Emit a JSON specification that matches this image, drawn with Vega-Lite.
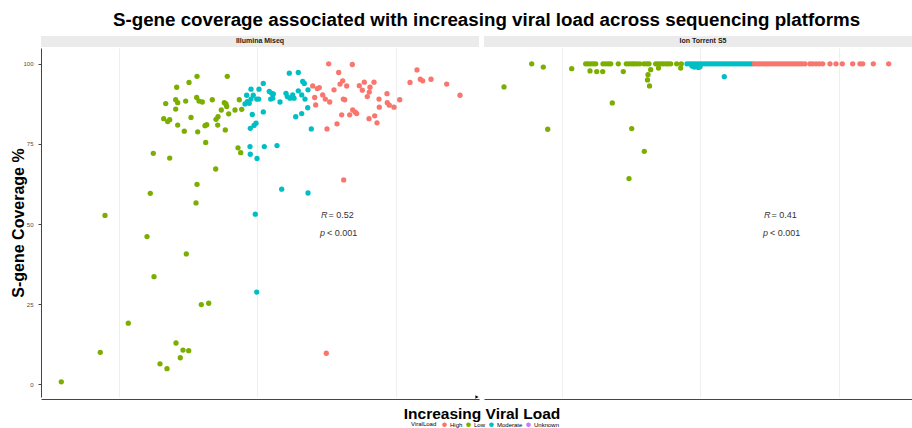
{
  "$schema": "https://vega.github.io/schema/vega-lite/v6.json",
  "padding": {"left": 10, "top": 11, "right": 0, "bottom": 0},
  "title": {"text": "S-gene coverage associated with increasing viral load across sequencing platforms", "fontSize": 18.75, "font": "Liberation Sans", "fontWeight": "bold", "color": "#000000", "anchor": "middle", "offset": 6, "dx": 20},
  "data": {"values": [
    {"kind": "lab", "P": "Illumina Miseq", "r": "= 0.52", "p": "< 0.001"},
    {"kind": "lab", "P": "Ion Torrent S5", "r": "= 0.41", "p": "< 0.001"},
    {"kind":"pt","P":"Illumina Miseq","L":"Low","x":64,"y":52.7},
    {"kind":"pt","P":"Illumina Miseq","L":"Low","x":112.3,"y":72.1},
    {"kind":"pt","P":"Illumina Miseq","L":"Low","x":109.3,"y":59.6},
    {"kind":"pt","P":"Illumina Miseq","L":"Low","x":128.7,"y":70.6},
    {"kind":"pt","P":"Illumina Miseq","L":"Low","x":124.7,"y":87.6},
    {"kind":"pt","P":"Illumina Miseq","L":"Low","x":122.7,"y":82.9},
    {"kind":"pt","P":"Illumina Miseq","L":"Low","x":126.7,"y":82.0},
    {"kind":"pt","P":"Illumina Miseq","L":"Low","x":128.7,"y":82.6},
    {"kind":"pt","P":"Illumina Miseq","L":"Low","x":134.7,"y":88.8},
    {"kind":"pt","P":"Illumina Miseq","L":"Low","x":136.7,"y":87.9},
    {"kind":"pt","P":"Illumina Miseq","L":"Low","x":135.7,"y":92.7},
    {"kind":"pt","P":"Illumina Miseq","L":"Low","x":134.7,"y":85.9},
    {"kind":"pt","P":"Illumina Miseq","L":"Low","x":136.7,"y":80.9},
    {"kind":"pt","P":"Illumina Miseq","L":"Low","x":144.7,"y":88.4},
    {"kind":"pt","P":"Illumina Miseq","L":"Low","x":143.3,"y":79.0},
    {"kind":"pt","P":"Illumina Miseq","L":"Low","x":148,"y":94.2},
    {"kind":"pt","P":"Illumina Miseq","L":"Low","x":150,"y":83.3},
    {"kind":"pt","P":"Illumina Miseq","L":"Low","x":156,"y":96.1},
    {"kind":"pt","P":"Illumina Miseq","L":"Low","x":155.7,"y":89.5},
    {"kind":"pt","P":"Illumina Miseq","L":"Low","x":158,"y":88.4},
    {"kind":"pt","P":"Illumina Miseq","L":"Low","x":161.3,"y":88.1},
    {"kind":"pt","P":"Illumina Miseq","L":"Low","x":156.7,"y":78.8},
    {"kind":"pt","P":"Illumina Miseq","L":"Low","x":164.7,"y":75.5},
    {"kind":"pt","P":"Illumina Miseq","L":"Low","x":164,"y":80.7},
    {"kind":"pt","P":"Illumina Miseq","L":"Low","x":165.7,"y":81.0},
    {"kind":"pt","P":"Illumina Miseq","L":"Low","x":171.3,"y":88.8},
    {"kind":"pt","P":"Illumina Miseq","L":"Low","x":175,"y":82.7},
    {"kind":"pt","P":"Illumina Miseq","L":"Low","x":177,"y":83.5},
    {"kind":"pt","P":"Illumina Miseq","L":"Low","x":176.7,"y":80.9},
    {"kind":"pt","P":"Illumina Miseq","L":"Low","x":180.3,"y":85.6},
    {"kind":"pt","P":"Illumina Miseq","L":"Low","x":184.3,"y":79.4},
    {"kind":"pt","P":"Illumina Miseq","L":"Low","x":183.3,"y":87.9},
    {"kind":"pt","P":"Illumina Miseq","L":"Low","x":185,"y":87.5},
    {"kind":"pt","P":"Illumina Miseq","L":"Low","x":185.7,"y":86.7},
    {"kind":"pt","P":"Illumina Miseq","L":"Low","x":187.7,"y":84.4},
    {"kind":"pt","P":"Illumina Miseq","L":"Low","x":186.3,"y":96.1},
    {"kind":"pt","P":"Illumina Miseq","L":"Low","x":194,"y":85.6},
    {"kind":"pt","P":"Illumina Miseq","L":"Low","x":198.3,"y":88.8},
    {"kind":"pt","P":"Illumina Miseq","L":"Low","x":200.7,"y":85.8},
    {"kind":"pt","P":"Illumina Miseq","L":"Low","x":197,"y":73.8},
    {"kind":"pt","P":"Illumina Miseq","L":"Low","x":199.7,"y":72.3},
    {"kind":"pt","P":"Illumina Miseq","L":"Low","x":174.7,"y":67.2},
    {"kind":"pt","P":"Illumina Miseq","L":"Low","x":156,"y":62.4},
    {"kind":"pt","P":"Illumina Miseq","L":"Low","x":155,"y":56.6},
    {"kind":"pt","P":"Illumina Miseq","L":"Low","x":106,"y":46.1},
    {"kind":"pt","P":"Illumina Miseq","L":"Low","x":145.3,"y":40.7},
    {"kind":"pt","P":"Illumina Miseq","L":"Low","x":113,"y":33.6},
    {"kind":"pt","P":"Illumina Miseq","L":"Low","x":160.3,"y":24.9},
    {"kind":"pt","P":"Illumina Miseq","L":"Low","x":167.7,"y":25.3},
    {"kind":"pt","P":"Illumina Miseq","L":"Low","x":87.3,"y":19.1},
    {"kind":"pt","P":"Illumina Miseq","L":"Low","x":59.3,"y":10.0},
    {"kind":"pt","P":"Illumina Miseq","L":"Low","x":135,"y":12.9},
    {"kind":"pt","P":"Illumina Miseq","L":"Low","x":142,"y":10.7},
    {"kind":"pt","P":"Illumina Miseq","L":"Low","x":147.7,"y":10.5},
    {"kind":"pt","P":"Illumina Miseq","L":"Low","x":139.3,"y":8.3},
    {"kind":"pt","P":"Illumina Miseq","L":"Low","x":119,"y":6.4},
    {"kind":"pt","P":"Illumina Miseq","L":"Low","x":126,"y":4.9},
    {"kind":"pt","P":"Illumina Miseq","L":"Low","x":20.3,"y":0.8},
    {"kind":"pt","P":"Illumina Miseq","L":"Moderate","x":204,"y":87.5},
    {"kind":"pt","P":"Illumina Miseq","L":"Moderate","x":206.3,"y":88.2},
    {"kind":"pt","P":"Illumina Miseq","L":"Moderate","x":208.3,"y":87.7},
    {"kind":"pt","P":"Illumina Miseq","L":"Moderate","x":205.7,"y":90.2},
    {"kind":"pt","P":"Illumina Miseq","L":"Moderate","x":210,"y":92.1},
    {"kind":"pt","P":"Illumina Miseq","L":"Moderate","x":210,"y":89.0},
    {"kind":"pt","P":"Illumina Miseq","L":"Moderate","x":212.3,"y":90.2},
    {"kind":"pt","P":"Illumina Miseq","L":"Moderate","x":215.7,"y":89.0},
    {"kind":"pt","P":"Illumina Miseq","L":"Moderate","x":217.7,"y":89.0},
    {"kind":"pt","P":"Illumina Miseq","L":"Moderate","x":218,"y":92.1},
    {"kind":"pt","P":"Illumina Miseq","L":"Moderate","x":222.3,"y":93.9},
    {"kind":"pt","P":"Illumina Miseq","L":"Moderate","x":228.3,"y":91.4},
    {"kind":"pt","P":"Illumina Miseq","L":"Moderate","x":230.7,"y":90.8},
    {"kind":"pt","P":"Illumina Miseq","L":"Moderate","x":232.3,"y":90.6},
    {"kind":"pt","P":"Illumina Miseq","L":"Moderate","x":231.7,"y":89.3},
    {"kind":"pt","P":"Illumina Miseq","L":"Moderate","x":229.7,"y":89.0},
    {"kind":"pt","P":"Illumina Miseq","L":"Moderate","x":239,"y":88.1},
    {"kind":"pt","P":"Illumina Miseq","L":"Moderate","x":211.3,"y":84.2},
    {"kind":"pt","P":"Illumina Miseq","L":"Moderate","x":215,"y":81.5},
    {"kind":"pt","P":"Illumina Miseq","L":"Moderate","x":213,"y":80.8},
    {"kind":"pt","P":"Illumina Miseq","L":"Moderate","x":209.3,"y":79.9},
    {"kind":"pt","P":"Illumina Miseq","L":"Moderate","x":222.3,"y":85.0},
    {"kind":"pt","P":"Illumina Miseq","L":"Moderate","x":209,"y":74.2},
    {"kind":"pt","P":"Illumina Miseq","L":"Moderate","x":209.3,"y":71.8},
    {"kind":"pt","P":"Illumina Miseq","L":"Moderate","x":216,"y":70.5},
    {"kind":"pt","P":"Illumina Miseq","L":"Moderate","x":223.3,"y":74.2},
    {"kind":"pt","P":"Illumina Miseq","L":"Moderate","x":236,"y":74.5},
    {"kind":"pt","P":"Illumina Miseq","L":"Moderate","x":240.7,"y":60.9},
    {"kind":"pt","P":"Illumina Miseq","L":"Moderate","x":248.3,"y":97.1},
    {"kind":"pt","P":"Illumina Miseq","L":"Moderate","x":257.3,"y":97.3},
    {"kind":"pt","P":"Illumina Miseq","L":"Moderate","x":257.3,"y":91.6},
    {"kind":"pt","P":"Illumina Miseq","L":"Moderate","x":245,"y":90.8},
    {"kind":"pt","P":"Illumina Miseq","L":"Moderate","x":246.3,"y":89.8},
    {"kind":"pt","P":"Illumina Miseq","L":"Moderate","x":249,"y":89.3},
    {"kind":"pt","P":"Illumina Miseq","L":"Moderate","x":251.7,"y":90.3},
    {"kind":"pt","P":"Illumina Miseq","L":"Moderate","x":253,"y":89.3},
    {"kind":"pt","P":"Illumina Miseq","L":"Moderate","x":254.7,"y":83.5},
    {"kind":"pt","P":"Illumina Miseq","L":"Moderate","x":260.7,"y":84.5},
    {"kind":"pt","P":"Illumina Miseq","L":"Moderate","x":260.7,"y":90.3},
    {"kind":"pt","P":"Illumina Miseq","L":"Moderate","x":261.7,"y":94.5},
    {"kind":"pt","P":"Illumina Miseq","L":"Moderate","x":263.3,"y":93.9},
    {"kind":"pt","P":"Illumina Miseq","L":"Moderate","x":264,"y":89.0},
    {"kind":"pt","P":"Illumina Miseq","L":"Moderate","x":266.7,"y":86.3},
    {"kind":"pt","P":"Illumina Miseq","L":"Moderate","x":267,"y":91.9},
    {"kind":"pt","P":"Illumina Miseq","L":"Moderate","x":270.3,"y":79.7},
    {"kind":"pt","P":"Illumina Miseq","L":"Moderate","x":267,"y":59.7},
    {"kind":"pt","P":"Illumina Miseq","L":"Moderate","x":214.3,"y":53.1},
    {"kind":"pt","P":"Illumina Miseq","L":"Moderate","x":215.7,"y":28.8},
    {"kind":"pt","P":"Illumina Miseq","L":"High","x":271.7,"y":93.1},
    {"kind":"pt","P":"Illumina Miseq","L":"High","x":273.7,"y":89.5},
    {"kind":"pt","P":"Illumina Miseq","L":"High","x":274.7,"y":87.2},
    {"kind":"pt","P":"Illumina Miseq","L":"High","x":276.3,"y":92.3},
    {"kind":"pt","P":"Illumina Miseq","L":"High","x":278.3,"y":92.6},
    {"kind":"pt","P":"Illumina Miseq","L":"High","x":281.7,"y":90.3},
    {"kind":"pt","P":"Illumina Miseq","L":"High","x":284.3,"y":89.0},
    {"kind":"pt","P":"Illumina Miseq","L":"High","x":287.7,"y":100.0},
    {"kind":"pt","P":"Illumina Miseq","L":"High","x":288.7,"y":88.1},
    {"kind":"pt","P":"Illumina Miseq","L":"High","x":286,"y":79.7},
    {"kind":"pt","P":"Illumina Miseq","L":"High","x":293,"y":91.9},
    {"kind":"pt","P":"Illumina Miseq","L":"High","x":296,"y":81.3},
    {"kind":"pt","P":"Illumina Miseq","L":"High","x":297.7,"y":97.3},
    {"kind":"pt","P":"Illumina Miseq","L":"High","x":299,"y":93.7},
    {"kind":"pt","P":"Illumina Miseq","L":"High","x":301.7,"y":94.7},
    {"kind":"pt","P":"Illumina Miseq","L":"High","x":300.7,"y":84.1},
    {"kind":"pt","P":"Illumina Miseq","L":"High","x":302.3,"y":89.0},
    {"kind":"pt","P":"Illumina Miseq","L":"High","x":303.7,"y":88.8},
    {"kind":"pt","P":"Illumina Miseq","L":"High","x":305.7,"y":93.1},
    {"kind":"pt","P":"Illumina Miseq","L":"High","x":302.7,"y":63.8},
    {"kind":"pt","P":"Illumina Miseq","L":"High","x":308.7,"y":84.1},
    {"kind":"pt","P":"Illumina Miseq","L":"High","x":311.3,"y":99.8},
    {"kind":"pt","P":"Illumina Miseq","L":"High","x":311.7,"y":85.6},
    {"kind":"pt","P":"Illumina Miseq","L":"High","x":314.3,"y":84.9},
    {"kind":"pt","P":"Illumina Miseq","L":"High","x":315.7,"y":84.5},
    {"kind":"pt","P":"Illumina Miseq","L":"High","x":318.3,"y":93.2},
    {"kind":"pt","P":"Illumina Miseq","L":"High","x":321.3,"y":91.8},
    {"kind":"pt","P":"Illumina Miseq","L":"High","x":323.3,"y":94.3},
    {"kind":"pt","P":"Illumina Miseq","L":"High","x":326.3,"y":89.8},
    {"kind":"pt","P":"Illumina Miseq","L":"High","x":328.3,"y":91.2},
    {"kind":"pt","P":"Illumina Miseq","L":"High","x":329,"y":92.7},
    {"kind":"pt","P":"Illumina Miseq","L":"High","x":328,"y":82.9},
    {"kind":"pt","P":"Illumina Miseq","L":"High","x":333,"y":94.3},
    {"kind":"pt","P":"Illumina Miseq","L":"High","x":333.7,"y":83.8},
    {"kind":"pt","P":"Illumina Miseq","L":"High","x":336,"y":81.6},
    {"kind":"pt","P":"Illumina Miseq","L":"High","x":338,"y":89.0},
    {"kind":"pt","P":"Illumina Miseq","L":"High","x":338.3,"y":86.5},
    {"kind":"pt","P":"Illumina Miseq","L":"High","x":346,"y":90.7},
    {"kind":"pt","P":"Illumina Miseq","L":"High","x":346.3,"y":87.9},
    {"kind":"pt","P":"Illumina Miseq","L":"High","x":348.3,"y":87.1},
    {"kind":"pt","P":"Illumina Miseq","L":"High","x":353,"y":86.5},
    {"kind":"pt","P":"Illumina Miseq","L":"High","x":358.7,"y":88.8},
    {"kind":"pt","P":"Illumina Miseq","L":"High","x":369,"y":94.2},
    {"kind":"pt","P":"Illumina Miseq","L":"High","x":376,"y":98.1},
    {"kind":"pt","P":"Illumina Miseq","L":"High","x":379.3,"y":95.2},
    {"kind":"pt","P":"Illumina Miseq","L":"High","x":381.7,"y":94.7},
    {"kind":"pt","P":"Illumina Miseq","L":"High","x":390,"y":95.2},
    {"kind":"pt","P":"Illumina Miseq","L":"High","x":405.7,"y":93.7},
    {"kind":"pt","P":"Illumina Miseq","L":"High","x":419,"y":90.2},
    {"kind":"pt","P":"Illumina Miseq","L":"High","x":285.3,"y":9.7},
    {"kind":"pt","P":"Ion Torrent S5","L":"Low","x":20,"y":92.8},
    {"kind":"pt","P":"Ion Torrent S5","L":"Low","x":47.7,"y":100},
    {"kind":"pt","P":"Ion Torrent S5","L":"Low","x":59.3,"y":99.0},
    {"kind":"pt","P":"Ion Torrent S5","L":"Low","x":63.7,"y":79.6},
    {"kind":"pt","P":"Ion Torrent S5","L":"Low","x":87.7,"y":98.5},
    {"kind":"pt","P":"Ion Torrent S5","L":"Low","x":101.7,"y":100},
    {"kind":"pt","P":"Ion Torrent S5","L":"Low","x":104,"y":100},
    {"kind":"pt","P":"Ion Torrent S5","L":"Low","x":106.7,"y":100},
    {"kind":"pt","P":"Ion Torrent S5","L":"Low","x":109.3,"y":100},
    {"kind":"pt","P":"Ion Torrent S5","L":"Low","x":111.7,"y":100},
    {"kind":"pt","P":"Ion Torrent S5","L":"Low","x":119,"y":100},
    {"kind":"pt","P":"Ion Torrent S5","L":"Low","x":121.7,"y":100},
    {"kind":"pt","P":"Ion Torrent S5","L":"Low","x":124.3,"y":100},
    {"kind":"pt","P":"Ion Torrent S5","L":"Low","x":126.7,"y":100},
    {"kind":"pt","P":"Ion Torrent S5","L":"Low","x":134.3,"y":100},
    {"kind":"pt","P":"Ion Torrent S5","L":"Low","x":142.3,"y":100},
    {"kind":"pt","P":"Ion Torrent S5","L":"Low","x":145,"y":100},
    {"kind":"pt","P":"Ion Torrent S5","L":"Low","x":147.7,"y":100},
    {"kind":"pt","P":"Ion Torrent S5","L":"Low","x":150,"y":100},
    {"kind":"pt","P":"Ion Torrent S5","L":"Low","x":152.7,"y":100},
    {"kind":"pt","P":"Ion Torrent S5","L":"Low","x":155.7,"y":100},
    {"kind":"pt","P":"Ion Torrent S5","L":"Low","x":160,"y":100},
    {"kind":"pt","P":"Ion Torrent S5","L":"Low","x":162.7,"y":100},
    {"kind":"pt","P":"Ion Torrent S5","L":"Low","x":165,"y":100},
    {"kind":"pt","P":"Ion Torrent S5","L":"Low","x":171.7,"y":100},
    {"kind":"pt","P":"Ion Torrent S5","L":"Low","x":174,"y":100},
    {"kind":"pt","P":"Ion Torrent S5","L":"Low","x":176.7,"y":100},
    {"kind":"pt","P":"Ion Torrent S5","L":"Low","x":179,"y":100},
    {"kind":"pt","P":"Ion Torrent S5","L":"Low","x":181.7,"y":100},
    {"kind":"pt","P":"Ion Torrent S5","L":"Low","x":184,"y":100},
    {"kind":"pt","P":"Ion Torrent S5","L":"Low","x":186.7,"y":100},
    {"kind":"pt","P":"Ion Torrent S5","L":"Low","x":192.7,"y":100},
    {"kind":"pt","P":"Ion Torrent S5","L":"Low","x":197.3,"y":100},
    {"kind":"pt","P":"Ion Torrent S5","L":"Low","x":106,"y":97.8},
    {"kind":"pt","P":"Ion Torrent S5","L":"Low","x":112.7,"y":97.6},
    {"kind":"pt","P":"Ion Torrent S5","L":"Low","x":118.7,"y":97.6},
    {"kind":"pt","P":"Ion Torrent S5","L":"Low","x":139.3,"y":97.6},
    {"kind":"pt","P":"Ion Torrent S5","L":"Low","x":166.7,"y":98.2},
    {"kind":"pt","P":"Ion Torrent S5","L":"Low","x":174.5,"y":98.7},
    {"kind":"pt","P":"Ion Torrent S5","L":"Low","x":196.7,"y":98.7},
    {"kind":"pt","P":"Ion Torrent S5","L":"Low","x":164,"y":96.6},
    {"kind":"pt","P":"Ion Torrent S5","L":"Low","x":163.5,"y":95.0},
    {"kind":"pt","P":"Ion Torrent S5","L":"Low","x":165.5,"y":93.1},
    {"kind":"pt","P":"Ion Torrent S5","L":"Low","x":128.3,"y":87.8},
    {"kind":"pt","P":"Ion Torrent S5","L":"Low","x":147.7,"y":79.8},
    {"kind":"pt","P":"Ion Torrent S5","L":"Low","x":160.3,"y":72.7},
    {"kind":"pt","P":"Ion Torrent S5","L":"Low","x":145,"y":64.2},
    {"kind":"pt","P":"Ion Torrent S5","L":"Moderate","x":203,"y":100},
    {"kind":"pt","P":"Ion Torrent S5","L":"Moderate","x":205.5,"y":100},
    {"kind":"pt","P":"Ion Torrent S5","L":"Moderate","x":208,"y":100},
    {"kind":"pt","P":"Ion Torrent S5","L":"Moderate","x":210.5,"y":100},
    {"kind":"pt","P":"Ion Torrent S5","L":"Moderate","x":213,"y":100},
    {"kind":"pt","P":"Ion Torrent S5","L":"Moderate","x":215.5,"y":100},
    {"kind":"pt","P":"Ion Torrent S5","L":"Moderate","x":218,"y":100},
    {"kind":"pt","P":"Ion Torrent S5","L":"Moderate","x":220.5,"y":100},
    {"kind":"pt","P":"Ion Torrent S5","L":"Moderate","x":223,"y":100},
    {"kind":"pt","P":"Ion Torrent S5","L":"Moderate","x":225.5,"y":100},
    {"kind":"pt","P":"Ion Torrent S5","L":"Moderate","x":228,"y":100},
    {"kind":"pt","P":"Ion Torrent S5","L":"Moderate","x":230.5,"y":100},
    {"kind":"pt","P":"Ion Torrent S5","L":"Moderate","x":233,"y":100},
    {"kind":"pt","P":"Ion Torrent S5","L":"Moderate","x":235.5,"y":100},
    {"kind":"pt","P":"Ion Torrent S5","L":"Moderate","x":238,"y":100},
    {"kind":"pt","P":"Ion Torrent S5","L":"Moderate","x":240.5,"y":100},
    {"kind":"pt","P":"Ion Torrent S5","L":"Moderate","x":243,"y":100},
    {"kind":"pt","P":"Ion Torrent S5","L":"Moderate","x":245.5,"y":100},
    {"kind":"pt","P":"Ion Torrent S5","L":"Moderate","x":248,"y":100},
    {"kind":"pt","P":"Ion Torrent S5","L":"Moderate","x":250.5,"y":100},
    {"kind":"pt","P":"Ion Torrent S5","L":"Moderate","x":253,"y":100},
    {"kind":"pt","P":"Ion Torrent S5","L":"Moderate","x":255.5,"y":100},
    {"kind":"pt","P":"Ion Torrent S5","L":"Moderate","x":258,"y":100},
    {"kind":"pt","P":"Ion Torrent S5","L":"Moderate","x":260.5,"y":100},
    {"kind":"pt","P":"Ion Torrent S5","L":"Moderate","x":263,"y":100},
    {"kind":"pt","P":"Ion Torrent S5","L":"Moderate","x":265.5,"y":100},
    {"kind":"pt","P":"Ion Torrent S5","L":"Moderate","x":268,"y":100},
    {"kind":"pt","P":"Ion Torrent S5","L":"Moderate","x":208,"y":99.3},
    {"kind":"pt","P":"Ion Torrent S5","L":"Moderate","x":210.5,"y":99.0},
    {"kind":"pt","P":"Ion Torrent S5","L":"Moderate","x":212.7,"y":99.2},
    {"kind":"pt","P":"Ion Torrent S5","L":"Moderate","x":214.3,"y":98.9},
    {"kind":"pt","P":"Ion Torrent S5","L":"Moderate","x":216,"y":99.1},
    {"kind":"pt","P":"Ion Torrent S5","L":"Moderate","x":240.3,"y":96.0},
    {"kind":"pt","P":"Ion Torrent S5","L":"High","x":270.5,"y":100},
    {"kind":"pt","P":"Ion Torrent S5","L":"High","x":273,"y":100},
    {"kind":"pt","P":"Ion Torrent S5","L":"High","x":275.5,"y":100},
    {"kind":"pt","P":"Ion Torrent S5","L":"High","x":278,"y":100},
    {"kind":"pt","P":"Ion Torrent S5","L":"High","x":280.5,"y":100},
    {"kind":"pt","P":"Ion Torrent S5","L":"High","x":283,"y":100},
    {"kind":"pt","P":"Ion Torrent S5","L":"High","x":285.5,"y":100},
    {"kind":"pt","P":"Ion Torrent S5","L":"High","x":288,"y":100},
    {"kind":"pt","P":"Ion Torrent S5","L":"High","x":290.5,"y":100},
    {"kind":"pt","P":"Ion Torrent S5","L":"High","x":293,"y":100},
    {"kind":"pt","P":"Ion Torrent S5","L":"High","x":295.5,"y":100},
    {"kind":"pt","P":"Ion Torrent S5","L":"High","x":298,"y":100},
    {"kind":"pt","P":"Ion Torrent S5","L":"High","x":300.5,"y":100},
    {"kind":"pt","P":"Ion Torrent S5","L":"High","x":303,"y":100},
    {"kind":"pt","P":"Ion Torrent S5","L":"High","x":305.5,"y":100},
    {"kind":"pt","P":"Ion Torrent S5","L":"High","x":308,"y":100},
    {"kind":"pt","P":"Ion Torrent S5","L":"High","x":310.5,"y":100},
    {"kind":"pt","P":"Ion Torrent S5","L":"High","x":313,"y":100},
    {"kind":"pt","P":"Ion Torrent S5","L":"High","x":315.5,"y":100},
    {"kind":"pt","P":"Ion Torrent S5","L":"High","x":318,"y":100},
    {"kind":"pt","P":"Ion Torrent S5","L":"High","x":321,"y":100},
    {"kind":"pt","P":"Ion Torrent S5","L":"High","x":326,"y":100},
    {"kind":"pt","P":"Ion Torrent S5","L":"High","x":328.7,"y":100},
    {"kind":"pt","P":"Ion Torrent S5","L":"High","x":332,"y":100},
    {"kind":"pt","P":"Ion Torrent S5","L":"High","x":335.3,"y":100},
    {"kind":"pt","P":"Ion Torrent S5","L":"High","x":338.7,"y":100},
    {"kind":"pt","P":"Ion Torrent S5","L":"High","x":346,"y":100},
    {"kind":"pt","P":"Ion Torrent S5","L":"High","x":352,"y":100},
    {"kind":"pt","P":"Ion Torrent S5","L":"High","x":358.3,"y":100},
    {"kind":"pt","P":"Ion Torrent S5","L":"High","x":368.7,"y":100},
    {"kind":"pt","P":"Ion Torrent S5","L":"High","x":376,"y":100},
    {"kind":"pt","P":"Ion Torrent S5","L":"High","x":378.7,"y":100},
    {"kind":"pt","P":"Ion Torrent S5","L":"High","x":389.3,"y":100},
    {"kind":"pt","P":"Ion Torrent S5","L":"High","x":404.7,"y":100}
  ]},
  "facet": {
    "column": {
      "field": "P", "type": "nominal", "sort": ["Illumina Miseq", "Ion Torrent S5"],
      "header": {"title": "Increasing Viral Load", "titleOrient": "bottom", "labels": false, "titleFontSize": 15.5, "titleFontWeight": "bold", "titleFont": "Liberation Sans", "titleColor": "#000000", "titlePadding": -2}
    }
  },
  "spacing": 5,
  "spec": {
    "width": 438,
    "height": 349,
    "layer": [
      {
        "transform": [{"filter": "datum.kind === 'lab'"}],
        "mark": {"type": "rect", "fill": "#EBEBEB", "clip": false},
        "encoding": {
          "x": {"datum": 0}, "x2": {"datum": 438},
          "y": {"datum": 108.7}, "y2": {"datum": 105.3}
        }
      },
      {
        "transform": [{"filter": "datum.kind === 'lab'"}],
        "mark": {"type": "text", "fontSize": 7, "fontWeight": "bold", "color": "#1A1A1A", "baseline": "middle", "align": "center", "clip": false},
        "encoding": {"x": {"datum": 219}, "y": {"datum": 107}, "text": {"field": "P"}}
      },
      {
        "transform": [{"filter": "datum.kind === 'pt'"}],
        "mark": {"type": "circle", "size": 28, "opacity": 1},
        "encoding": {
          "x": {"field": "x", "type": "quantitative", "scale": {"domain": [0, 438], "nice": false, "zero": false},
                "axis": {"title": null, "labels": false, "ticks": false, "values": [77.5, 215.5, 354.5], "grid": true}},
          "y": {"field": "y", "type": "quantitative", "scale": {"domain": [-3.95, 104.95], "nice": false, "zero": false},
                "axis": {"title": "S-gene Coverage %", "values": [0, 25, 50, 75, 100], "labelPadding": 5, "titlePadding": -4}},
          "color": {"field": "L", "type": "nominal",
                    "scale": {"domain": ["High", "Low", "Moderate", "Unknown"], "range": ["#F8766D", "#7CAE00", "#00BFC4", "#C77CFF"]},
                    "legend": {"title": "ViralLoad", "orient": "none", "legendX": 370, "legendY": 373, "direction": "horizontal", "titleOrient": "left", "titleFontSize": 6, "titleFontWeight": "normal", "labelFontSize": 6, "symbolSize": 22, "symbolType": "circle", "columnPadding": 2, "labelOffset": 2, "labelColor": "#000000", "titleColor": "#000000", "titlePadding": 4}}
        }
      },
      {
        "transform": [{"filter": "datum.kind === 'lab'"}],
        "mark": {"type": "text", "fontSize": 9, "fontStyle": "italic", "color": "#333333", "align": "left", "baseline": "middle"},
        "encoding": {"x": {"datum": 280}, "y": {"datum": 52.8}, "text": {"value": "R"}}
      },
      {
        "transform": [{"filter": "datum.kind === 'lab'"}],
        "mark": {"type": "text", "fontSize": 9, "color": "#333333", "align": "left", "baseline": "middle"},
        "encoding": {"x": {"datum": 287.5}, "y": {"datum": 52.8}, "text": {"field": "r"}}
      },
      {
        "transform": [{"filter": "datum.kind === 'lab'"}],
        "mark": {"type": "text", "fontSize": 9, "fontStyle": "italic", "color": "#333333", "align": "left", "baseline": "middle"},
        "encoding": {"x": {"datum": 279}, "y": {"datum": 47.2}, "text": {"value": "p"}}
      },
      {
        "transform": [{"filter": "datum.kind === 'lab'"}],
        "mark": {"type": "text", "fontSize": 9, "color": "#333333", "align": "left", "baseline": "middle"},
        "encoding": {"x": {"datum": 286}, "y": {"datum": 47.2}, "text": {"field": "p"}}
      },
      {
        "transform": [{"filter": "datum.kind === 'lab'"}],
        "mark": {"type": "point", "shape": "triangle-right", "size": 14, "filled": true, "color": "#000000", "opacity": 1, "clip": false},
        "encoding": {"x": {"datum": 436}, "y": {"datum": -3.95}}
      }
    ]
  },
  "config": {
    "font": "Liberation Sans",
    "view": {"stroke": null},
    "axis": {
      "gridColor": "#EBEBEB", "gridWidth": 0.8,
      "domainColor": "#444444", "domainWidth": 1,
      "tickColor": "#444444", "tickSize": 3,
      "labelFontSize": 6, "labelColor": "#4D4D4D", "labelPadding": 2,
      "titleFontSize": 16, "titleFontWeight": "bold", "titleColor": "#000000", "titlePadding": 4
    }
  }
}
